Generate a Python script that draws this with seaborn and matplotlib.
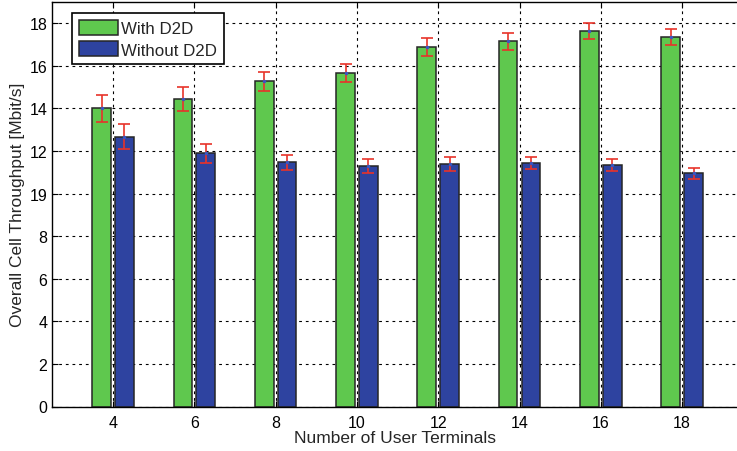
import matplotlib
matplotlib.use("Agg")
import matplotlib.pyplot as plt
import seaborn as sns
import pandas as pd

# Throughput per number of user terminals, with and without D2D
terminals = ["4", "6", "8", "10", "12", "14", "16", "18"]
with_d2d = [14.0, 14.44, 15.27, 15.68, 16.9, 17.15, 17.64, 17.36]
with_d2d_err = [0.62, 0.55, 0.45, 0.42, 0.42, 0.39, 0.37, 0.36]
without_d2d = [12.67, 11.89, 11.47, 11.31, 11.4, 11.44, 11.36, 10.95]
without_d2d_err = [0.58, 0.44, 0.36, 0.32, 0.32, 0.28, 0.28, 0.26]
schemes = ["With D2D", "Without D2D"]
y_ticks = [0, 2, 4, 6, 8, 10, 12, 14, 16, 18]
y_tick_labels = ["0", "2", "4", "6", "8", "19", "12", "14", "16", "18"]

df = pd.DataFrame({
    "terminals": terminals * 2,
    "scheme": [schemes[0]] * len(terminals) + [schemes[1]] * len(terminals),
    "throughput": with_d2d + without_d2d,
})
errors = [with_d2d_err, without_d2d_err]

sns.set_style("white")
plt.rcParams["font.family"] = ["Liberation Sans", "DejaVu Sans"]

green = "#5fc84e"
blue = "#2e43a0"
red = "#e8332a"

fig = plt.figure(figsize=(7.37, 4.52), dpi=100)
ax = fig.add_axes([52 / 737, 44.5 / 452, 685 / 737, 404.5 / 452])

sns.barplot(data=df, x="terminals", y="throughput", hue="scheme",
            order=terminals, hue_order=schemes, palette=[green, blue],
            saturation=1, width=0.56, gap=0.18, errorbar=None,
            edgecolor="#262626", linewidth=1.1, ax=ax, zorder=2)

# error bars centred on each bar
for container, err in zip(ax.containers, errors):
    xs = [p.get_x() + p.get_width() / 2 for p in container.patches]
    hs = [p.get_height() for p in container.patches]
    ax.errorbar(xs, hs, yerr=err, fmt="none", ecolor=red, elinewidth=1.2,
                capsize=4, capthick=1.2, zorder=3)
    ax.plot(xs, hs, linestyle="none", marker="o", markersize=1.5,
            color="#3a55c0", zorder=4)

ax.set_xlim(-0.75, 7.675)
ax.set_ylim(0, 19)
ax.set_yticks(y_ticks)
ax.set_yticklabels(y_tick_labels)

ax.set_axisbelow(True)
ax.grid(True, color="black", linestyle=(0, (2.5, 3.5)), linewidth=0.8)

for side in ["left", "bottom", "top"]:
    ax.spines[side].set_visible(True)
    ax.spines[side].set_color("black")
    ax.spines[side].set_linewidth(1.0)
ax.spines["right"].set_visible(False)

ax.tick_params(axis="both", direction="in", length=4, width=0.8,
               labelsize=11.5, colors="black", top=True, left=True, bottom=True)
ax.tick_params(axis="x", pad=6)

ax.set_xlabel("Number of User Terminals", fontsize=12.5, labelpad=0)
ax.set_ylabel("Overall Cell Throughput [Mbit/s]", fontsize=12.5, labelpad=3)

handles, labels = ax.get_legend_handles_labels()
leg = ax.legend(handles, labels, loc="upper left",
                bbox_to_anchor=(0.029, 0.973), borderaxespad=0,
                fancybox=False, framealpha=1, edgecolor="black",
                fontsize=12.2, handlelength=2.3, handleheight=1.0,
                handletextpad=0.2, borderpad=0.4, labelspacing=0.3)
leg.get_frame().set_linewidth(1.2)

fig.savefig("out.png", dpi=100)
